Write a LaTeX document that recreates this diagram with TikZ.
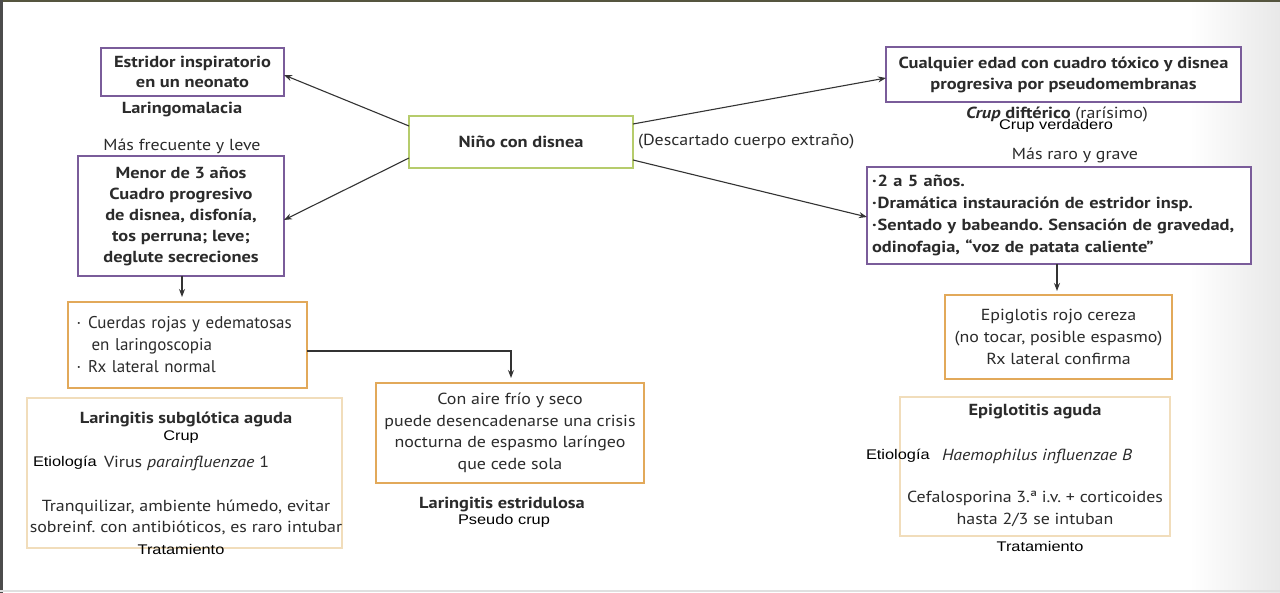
\documentclass[tikz,border=0pt]{standalone}
\usepackage{fontspec}
\setmainfont{PT Sans}[FakeStretch=1.12, BoldFeatures={FakeStretch=1.15}, BoldItalicFeatures={FakeStretch=1.15}]
\newfontfamily\condf[FakeStretch=1.0]{PT Sans}
\newfontfamily\arialf[FakeStretch=1.17]{Liberation Sans}
\usetikzlibrary{arrows.meta}
\definecolor{txt}{HTML}{2B2B2B}
\definecolor{purp}{HTML}{7A5C9A}
\definecolor{orng}{HTML}{E2A95A}
\definecolor{beig}{HTML}{F1DDBB}
\definecolor{grn}{HTML}{B6CC6C}
\definecolor{arrc}{HTML}{333333}
\definecolor{topl}{HTML}{55553F}
\frenchspacing
\begin{document}
\begin{tikzpicture}[x=1pt,y=-1pt,
  every node/.style={inner sep=0pt, outer sep=0pt, text=txt, font=\fontsize{16}{21.5}\selectfont},
  pbox/.style={draw=purp, line width=1.3pt, fill=white},
  obox/.style={draw=orng, line width=1.3pt, fill=white},
  bbox/.style={draw=beig, line width=1.3pt, fill=white},
  gbox/.style={draw=grn, line width=1.3pt, fill=white},
  lbl/.style={font=\arialf\fontsize{14}{16}\selectfont, text=black},
  bld/.style={font=\bfseries\fontsize{16}{21}\selectfont},
  arr/.style={draw=arrc, line width=1.1pt, -{Stealth[length=8pt,width=6pt]}},
]
% background
\useasboundingbox (0,0) rectangle (1280,593);
\fill[white] (0,0) rectangle (1280,593);
\shade[left color=white, right color=black!9, shading angle=90] (1190,0) rectangle (1280,593);
\draw[topl, line width=2pt] (0,1) -- (1280,1);
\draw[black!70, line width=2.5pt] (1.25,0) -- (1.25,593);
\draw[black!12, line width=1.5pt] (0,591) -- (1280,591);

% left column
\node[pbox, minimum width=183pt, minimum height=48pt, align=center, font=\bfseries\fontsize{16}{20}\selectfont] (estr) at (192.5,72) {Estridor inspiratorio\\en un neonato};
\node[bld] (lmal) at (182,110) {Laringomalacia};
\node (mfl) at (182,146) {Más frecuente y leve};
\node[pbox, bld, minimum width=206pt, minimum height=120pt, align=center] (menor) at (181,216) {Menor de 3 años\\Cuadro progresivo\\de disnea, disfonía,\\tos perruna; leve;\\deglute secreciones};
\node[obox, text width=222pt, inner xsep=8.5pt, minimum height=86pt, align=left, font=\condf\fontsize{17}{22}\selectfont] (cuer) at (187.5,345) {·\hspace{7pt}Cuerdas rojas y edematosas\\\hspace*{15pt}en laringoscopia\\·\hspace{7pt}Rx lateral normal};
\node[bbox, minimum width=315pt, minimum height=150pt] (subg) at (184.5,473) {};
\node[bld] (subgt) at (186,419) {Laringitis subglótica aguda};
\node[lbl] (crup) at (181,437) {Crup};
\node[lbl, anchor=west] (etio1) at (33,463) {Etiología};
\node[anchor=west] (vir) at (104,463) {Virus \textit{parainfluenzae} 1};
\node[align=center] (trat1t) at (186,517.5) {Tranquilizar, ambiente húmedo, evitar\\sobreinf. con antibióticos, es raro intubar};
\node[lbl] (trat1) at (181,549) {Tratamiento};

% center
\node[gbox, bld, minimum width=224pt, minimum height=52pt] (nino) at (521,142) {Niño con disnea};
\node[anchor=west] (desc) at (638,142) {(Descartado cuerpo extraño)};
\node[obox, minimum width=268pt, minimum height=100pt, align=center] (aire) at (510,433) {Con aire frío y seco\\puede desencadenarse una crisis\\nocturna de espasmo laríngeo\\que cede sola};
\node[bld] (estri) at (502,505) {Laringitis estridulosa};
\node[lbl] (pseu) at (504,521) {Pseudo crup};

% right column
\node[pbox, bld, minimum width=355pt, minimum height=55pt, align=center] (cual) at (1063.5,74.5) {Cualquier edad con cuadro tóxico y disnea\\progresiva por pseudomembranas};
\node (dift) at (1057,115) {{\bfseries\itshape Crup} {\bfseries diftérico} (rarísimo)};
\node[lbl] (verd) at (1056,126) {Crup verdadero};
\node (mrg) at (1075,155) {Más raro y grave};
\node[pbox, text width=374pt, inner xsep=5pt, minimum height=97pt, align=left, font=\bfseries\fontsize{16}{22}\selectfont] (dos) at (1059,215.5) {·\hspace{1pt}2 a 5 años.\\·\hspace{1pt}Dramática instauración de estridor insp.\\·\hspace{1pt}Sentado y babeando. Sensación de gravedad,\\odinofagia, “voz de patata caliente”};
\node[obox, minimum width=227pt, minimum height=84pt, align=center, font=\fontsize{16}{22}\selectfont] (epi) at (1058.5,337) {Epiglotis rojo cereza\\(no tocar, posible espasmo)\\Rx lateral confirma};
\node[bbox, minimum width=270pt, minimum height=139pt] (epa) at (1035,466.5) {};
\node[bld] (epat) at (1035,412) {Epiglotitis aguda};
\node[lbl, anchor=west] (etio2) at (866,456) {Etiología};
\node[anchor=west] (haem) at (942,456) {\textit{Haemophilus influenzae B}};
\node[align=center] (trat2t) at (1035,509) {Cefalosporina 3.ª i.v. + corticoides\\hasta 2/3 se intuban};
\node[lbl] (trat2) at (1040,546) {Tratamiento};

% connectors
\draw[arr] ([yshift=16pt]nino.west) -- ([yshift=-3pt]estr.east);
\draw[arr] ([yshift=-16pt]nino.west) -- ([yshift=-4pt]menor.east);
\draw[arr] ([yshift=18pt]nino.east) -- ([yshift=-3.5pt]cual.west);
\draw[arr] ([yshift=-18pt]nino.east) -- ([yshift=-1.5pt]dos.west);
\draw[arr, shorten >=5pt] ([xshift=1pt]menor.south) -- ([xshift=1pt]menor.south |- cuer.north);
\draw[arr, shorten >=5pt] ([yshift=-6pt]cuer.east) -| ([xshift=1pt]aire.north);
\draw[arr, shorten >=4pt] ([xshift=-2pt]dos.south) -- ([xshift=-2pt]dos.south |- epi.north);
\end{tikzpicture}
\end{document}
